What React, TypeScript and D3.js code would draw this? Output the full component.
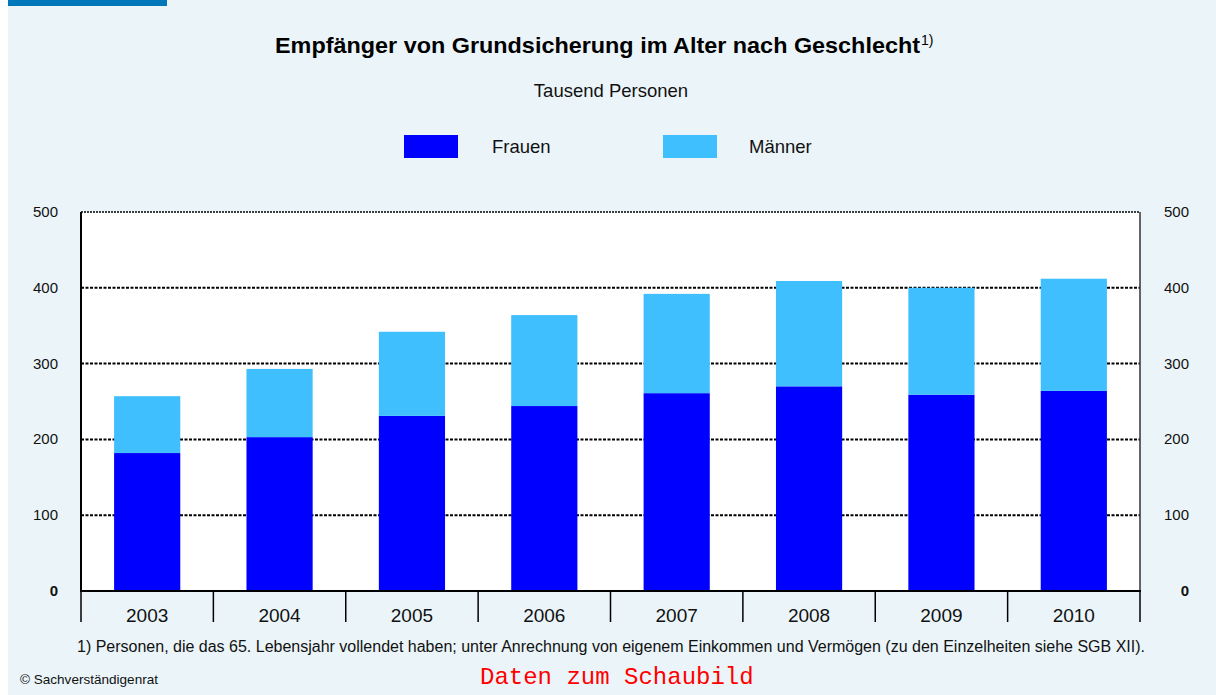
import React from "react";
import * as d3 from "d3";

const years = ["2003", "2004", "2005", "2006", "2007", "2008", "2009", "2010"];
const frauen = [182, 203, 231, 244, 261, 270, 259, 264];
const maenner = [75, 90, 111, 120, 131, 139, 141, 148];
const yTicks = [0, 100, 200, 300, 400, 500];
const seriesNames = ["Frauen", "Männer"];
const colors = ["#0000FF", "#40BFFF"];

const W = 1216, H = 695;
const left = 81, right = 1140, top = 212, bottom = 591;

export default function App() {
  const x = d3.scaleBand().domain(years).range([left, right]).paddingInner(0.5).paddingOuter(0.25);
  const y = d3.scaleLinear().domain([0, 500]).range([bottom, top]);
  const rows = years.map((yr, i) => ({ year: yr, Frauen: frauen[i], Männer: maenner[i] }));
  const stack = d3.stack<any>().keys(seriesNames)(rows);
  const step = (right - left) / years.length;
  const font = "'Liberation Sans', Arial, sans-serif";
  return (
    <svg width={W} height={H} style={{ position: "absolute", left: 0, top: 0 }} fontFamily={font}>
      <rect x={8} y={0} width={W - 8} height={H} fill="#EBF5F9" />
      <rect x={8} y={0} width={159} height={6} fill="#0077BB" />
      <text x={275} y={53} fontSize={21.5} fontWeight="bold" fill="#000" textLength={645} lengthAdjust="spacingAndGlyphs">
        Empfänger von Grundsicherung im Alter nach Geschlecht
      </text>
      <text x={921} y={45} fontSize={14} fill="#000">1)</text>
      <text x={611} y={97} textAnchor="middle" fontSize={18.5} fill="#111">Tausend Personen</text>
      {seriesNames.map((s, i) => (
        <g key={s}>
          <rect x={404 + i * 259} y={135} width={54} height={23} fill={colors[i]} />
          <text x={492 + i * 257} y={153} fontSize={18.5} fill="#111">{s}</text>
        </g>
      ))}
      <rect x={left} y={top} width={right - left} height={bottom - top} fill="#fff" />
      {yTicks.filter(t => t > 0).map(t => (
        <line key={t} x1={left} x2={right} y1={y(t)} y2={y(t)} stroke="#000" strokeWidth={t === 500 ? 1.5 : 2} strokeDasharray={t === 500 ? "2,1" : "3,1.5"} />
      ))}
      {stack.map((layer, li) => (
        <g key={li} fill={colors[li]}>
          {layer.map((d: any, i: number) => (
            <rect key={i} x={x(years[i])} width={x.bandwidth()} y={y(d[1])} height={y(d[0]) - y(d[1])} />
          ))}
        </g>
      ))}
      <line x1={right} x2={right} y1={top} y2={bottom} stroke="#333" strokeWidth={1.5} />
      <line x1={left} x2={left} y1={top} y2={bottom + 1} stroke="#000" strokeWidth={2} />
      <line x1={left - 1} x2={right + 1} y1={bottom} y2={bottom} stroke="#000" strokeWidth={2} />
      {d3.range(years.length + 1).map(i => (
        <line key={i} x1={left + i * step} x2={left + i * step} y1={bottom} y2={622} stroke="#000" strokeWidth={1.5} />
      ))}
      {years.map(yr => (
        <text key={yr} x={(x(yr) as number) + x.bandwidth() / 2} y={622} textAnchor="middle" fontSize={19} fill="#111">{yr}</text>
      ))}
      {yTicks.map(t => (
        <g key={t}>
          <text x={58} y={y(t) + 5} textAnchor="end" fontSize={15} fontWeight={t === 0 ? "bold" : "normal"} fill="#111">{t}</text>
          <text x={1189} y={y(t) + 5} textAnchor="end" fontSize={15} fontWeight={t === 0 ? "bold" : "normal"} fill="#111">{t}</text>
        </g>
      ))}
      <text x={611} y={652} textAnchor="middle" fontSize={16} fill="#111" textLength={1068} lengthAdjust="spacingAndGlyphs">
        1) Personen, die das 65. Lebensjahr vollendet haben; unter Anrechnung von eigenem Einkommen und Vermögen (zu den Einzelheiten siehe SGB XII).
      </text>
      <text x={20} y={684} fontSize={13} fill="#111" textLength={138} lengthAdjust="spacingAndGlyphs">© Sachverständigenrat</text>
      <text x={480} y={684} fontSize={24} fill="#FF0000" fontFamily="'Liberation Mono', 'Courier New', monospace">Daten zum Schaubild</text>
    </svg>
  );
}
